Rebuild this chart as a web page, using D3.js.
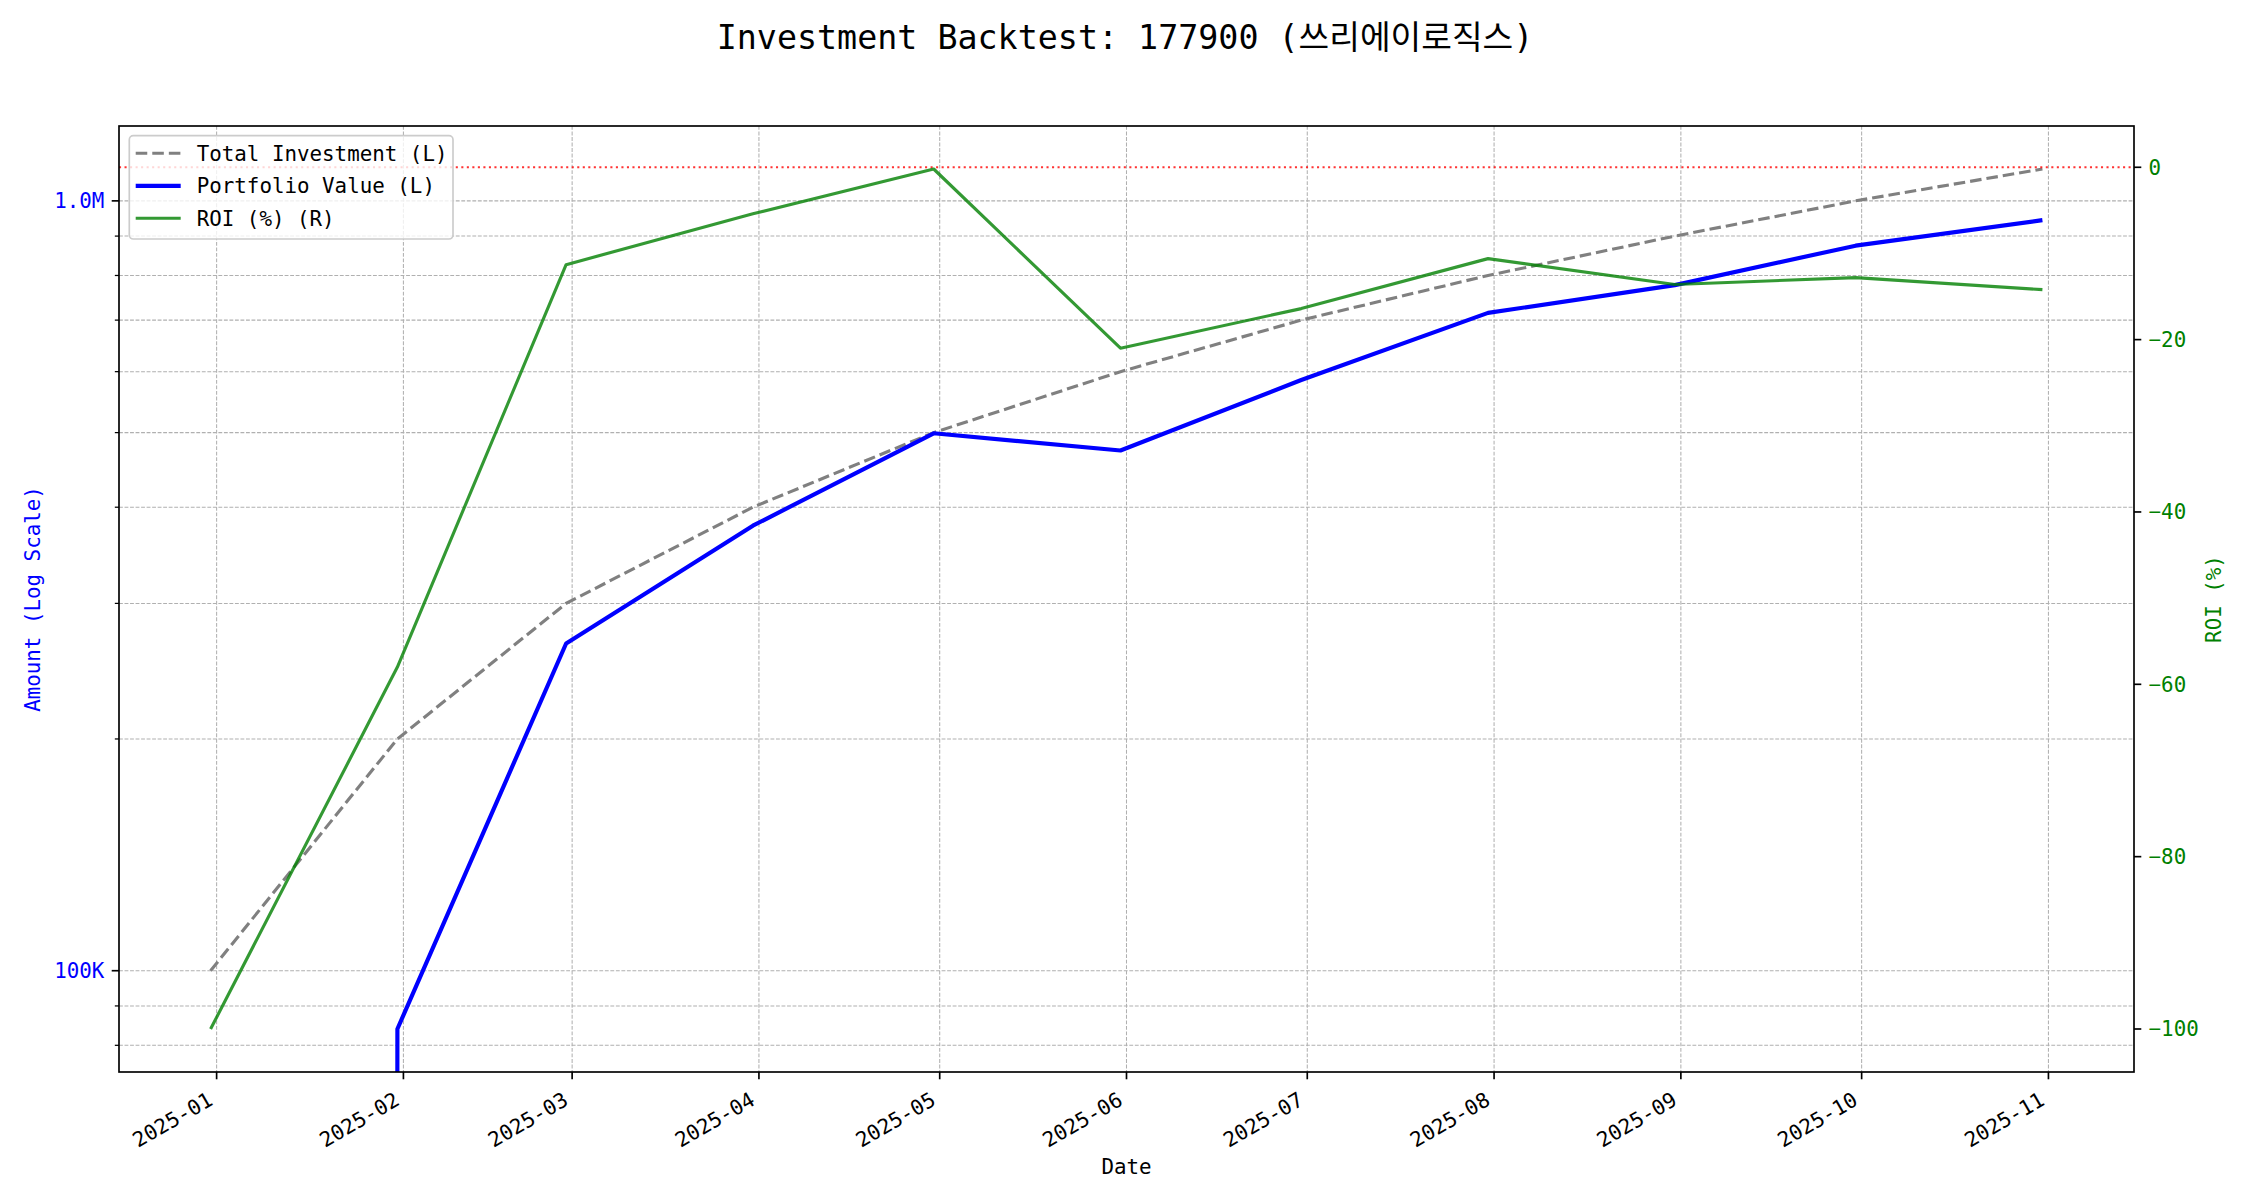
<!DOCTYPE html>
<html><head><meta charset="utf-8">
<script src="https://cdn.jsdelivr.net/npm/d3@7"></script>
<style>
body{margin:0;background:#fff}
text{font-family:"DejaVu Sans Mono","Noto Sans CJK KR",monospace}
</style>
</head><body>
<svg id="c" width="2250" height="1200" xmlns="http://www.w3.org/2000/svg"></svg>
<script>
// ---------------- data ----------------
const dates = ["2024-12-31","2025-01-31","2025-02-28","2025-03-31","2025-04-30","2025-05-31",
               "2025-06-30","2025-07-31","2025-08-31","2025-09-30","2025-10-31"];
const totalInvestment = [100000,200000,300000,400000,500000,600000,700000,800000,900000,1000000,1100000];
const portfolioValue  = [0,84000,266100,378500,499000,474000,585200,715300,777300,874600,943900];
const roiPct          = [-100,-58.0,-11.3,-5.4,-0.2,-21.0,-16.4,-10.6,-13.6,-12.8,-14.2];

const monthTicks = ["2025-01-01","2025-02-01","2025-03-01","2025-04-01","2025-05-01","2025-06-01",
                    "2025-07-01","2025-08-01","2025-09-01","2025-10-01","2025-11-01"];
const monthTickLabels = ["2025-01","2025-02","2025-03","2025-04","2025-05","2025-06",
                         "2025-07","2025-08","2025-09","2025-10","2025-11"];
const amountMajorTicks = [100000, 1000000];
const amountMajorLabels = ["100K", "1.0M"];
const amountMinorTicks = [80000, 90000, 200000, 300000, 400000, 500000, 600000, 700000, 800000, 900000];
const roiTicks = [0, -20, -40, -60, -80, -100];
const roiTickLabels = ["0", "\u221220", "\u221240", "\u221260", "\u221280", "\u2212100"];
const legendLabels = ["Total Investment (L)", "Portfolio Value (L)", "ROI (%) (R)"];
const titleText = "Investment Backtest: 177900 (쓰리에이로직스)";
const xLabel = "Date";
const yLabelLeft = "Amount (Log Scale)";
const yLabelRight = "ROI (%)";

// ---------------- layout ----------------
const L = 119, R = 2134, T = 126, B = 1072;
const svg = d3.select("#c");
const parse = d3.utcParse("%Y-%m-%d");
const dDates = dates.map(parse);
const dTicks = monthTicks.map(parse);

// 5% margins like matplotlib autoscale
const xExt = d3.extent(dDates).map(d => +d);
const xPad = (xExt[1] - xExt[0]) * 0.05;
const x = d3.scaleUtc().domain([new Date(xExt[0] - xPad), new Date(xExt[1] + xPad)]).range([L, R]);

const posVals = portfolioValue.concat(totalInvestment).filter(v => v > 0);
const lmin = Math.log10(d3.min(posVals)), lmax = Math.log10(d3.max(posVals));
const lpad = (lmax - lmin) * 0.05;
const y = d3.scaleLog().domain([10 ** (lmin - lpad), 10 ** (lmax + lpad)]).range([B, T]);

const rExt = d3.extent(roiPct);
const rpad = (rExt[1] - rExt[0]) * 0.05;
const yR = d3.scaleLinear().domain([rExt[0] - rpad, rExt[1] + rpad]).range([B, T]);

const PT = 150 / 72;

svg.append("defs").append("clipPath").attr("id", "clip")
  .append("rect").attr("x", L).attr("y", T).attr("width", R - L).attr("height", B - T);

// ---------------- grid ----------------
const grid = svg.append("g").attr("stroke", "#b0b0b0").attr("stroke-width", 0.5 * PT)
  .attr("stroke-dasharray", `${3.7 * 0.5 * PT},${1.6 * 0.5 * PT}`);
grid.selectAll("line.v").data(dTicks).join("line").attr("class", "v")
  .attr("x1", d => x(d)).attr("x2", d => x(d)).attr("y1", T).attr("y2", B);
grid.selectAll("line.h").data(amountMajorTicks.concat(amountMinorTicks)).join("line").attr("class", "h")
  .attr("x1", L).attr("x2", R).attr("y1", d => y(d)).attr("y2", d => y(d));

// ---------------- lines ----------------
const plot = svg.append("g").attr("clip-path", "url(#clip)");
const safeLog = v => v > 0 ? v : 1e-300;

plot.append("path")
  .attr("d", d3.line().x((d, i) => x(dDates[i])).y(d => y(d))(totalInvestment))
  .attr("fill", "none").attr("stroke", "#808080").attr("stroke-width", 1.5 * PT)
  .attr("stroke-dasharray", `${3.7 * 1.5 * PT},${1.6 * 1.5 * PT}`);

plot.append("path")
  .attr("d", d3.line().x((d, i) => x(dDates[i])).y(d => y(safeLog(d)))(portfolioValue))
  .attr("fill", "none").attr("stroke", "blue").attr("stroke-width", 2 * PT)
  .attr("stroke-linejoin", "round");

plot.append("line").attr("x1", L).attr("x2", R).attr("y1", yR(0)).attr("y2", yR(0))
  .attr("stroke", "red").attr("stroke-opacity", 0.8).attr("stroke-width", 1 * PT)
  .attr("stroke-dasharray", `${1 * PT},${1.65 * PT}`);

plot.append("path")
  .attr("d", d3.line().x((d, i) => x(dDates[i])).y(d => yR(d))(roiPct))
  .attr("fill", "none").attr("stroke", "green").attr("stroke-opacity", 0.8)
  .attr("stroke-width", 1.5 * PT).attr("stroke-linejoin", "round");

// ---------------- spines ----------------
svg.append("rect").attr("x", L).attr("y", T).attr("width", R - L).attr("height", B - T)
  .attr("fill", "none").attr("stroke", "#000").attr("stroke-width", 0.8 * PT);

// ---------------- ticks ----------------
const tk = svg.append("g").attr("stroke", "#000");
const majLen = 3.5 * PT, minLen = 2 * PT, pad = 3.5 * PT;
tk.selectAll("line.xt").data(dTicks).join("line").attr("class", "xt")
  .attr("x1", d => x(d)).attr("x2", d => x(d)).attr("y1", B).attr("y2", B + majLen).attr("stroke-width", 0.8 * PT);
tk.selectAll("line.ylM").data(amountMajorTicks).join("line").attr("class", "ylM")
  .attr("x1", L - majLen).attr("x2", L).attr("y1", d => y(d)).attr("y2", d => y(d)).attr("stroke-width", 0.8 * PT);
tk.selectAll("line.ylm").data(amountMinorTicks).join("line").attr("class", "ylm")
  .attr("x1", L - minLen).attr("x2", L).attr("y1", d => y(d)).attr("y2", d => y(d)).attr("stroke-width", 0.6 * PT);
tk.selectAll("line.yr").data(roiTicks).join("line").attr("class", "yr")
  .attr("x1", R).attr("x2", R + majLen).attr("y1", d => yR(d)).attr("y2", d => yR(d)).attr("stroke-width", 0.8 * PT);

const FS = 10 * PT;
svg.append("g").selectAll("text").data(dTicks).join("text")
  .attr("transform", d => `translate(${x(d) - 2.5},${B + majLen + pad + 17.5}) rotate(-30)`)
  .attr("text-anchor", "end").attr("font-size", FS).attr("fill", "#000")
  .text((d, i) => monthTickLabels[i]);

svg.append("g").selectAll("text").data(amountMajorTicks).join("text")
  .attr("x", L - majLen - pad).attr("y", d => y(d)).attr("dy", "0.35em")
  .attr("text-anchor", "end").attr("font-size", FS).attr("fill", "blue")
  .text((d, i) => amountMajorLabels[i]);

svg.append("g").selectAll("text").data(roiTicks).join("text")
  .attr("x", R + majLen + pad).attr("y", d => yR(d)).attr("dy", "0.35em")
  .attr("text-anchor", "start").attr("font-size", FS).attr("fill", "green")
  .text((d, i) => roiTickLabels[i]);

// ---------------- labels ----------------
svg.append("text").attr("x", 1125).attr("y", 49).attr("text-anchor", "middle")
  .attr("font-size", 16 * PT).attr("fill", "#000").text(titleText);
svg.append("text").attr("x", (L + R) / 2).attr("y", 1174).attr("text-anchor", "middle")
  .attr("font-size", FS).attr("fill", "#000").text(xLabel);
svg.append("text").attr("transform", `translate(40,${(T + B) / 2}) rotate(-90)`).attr("text-anchor", "middle")
  .attr("font-size", FS).attr("fill", "blue").text(yLabelLeft);
svg.append("text").attr("transform", `translate(2221,${(T + B) / 2}) rotate(-90)`).attr("text-anchor", "middle")
  .attr("font-size", FS).attr("fill", "green").text(yLabelRight);

// ---------------- legend ----------------
const lg = svg.append("g");
lg.append("rect").attr("x", 129.3).attr("y", 135.7).attr("width", 323.7).attr("height", 103.3).attr("rx", 4)
  .attr("fill", "#fff").attr("fill-opacity", 0.8).attr("stroke", "#cccccc").attr("stroke-width", 0.8 * PT);
const legStyles = [
  {stroke: "#808080", w: 1.5 * PT, dash: `${3.7 * 1.5 * PT},${1.6 * 1.5 * PT}`, op: 1},
  {stroke: "blue", w: 2 * PT, dash: null, op: 1},
  {stroke: "green", w: 1.5 * PT, dash: null, op: 0.8}
];
legendLabels.forEach((lab, i) => {
  const cy = 153.3 + i * 32.5;
  const s = legStyles[i];
  lg.append("line").attr("x1", 135.7).attr("x2", 180.7).attr("y1", cy).attr("y2", cy)
    .attr("stroke", s.stroke).attr("stroke-width", s.w).attr("stroke-opacity", s.op)
    .attr("stroke-dasharray", s.dash);
  lg.append("text").attr("x", 196.7).attr("y", cy).attr("dy", "0.35em")
    .attr("font-size", FS).attr("fill", "#000").text(lab);
});
</script>
</body></html>
